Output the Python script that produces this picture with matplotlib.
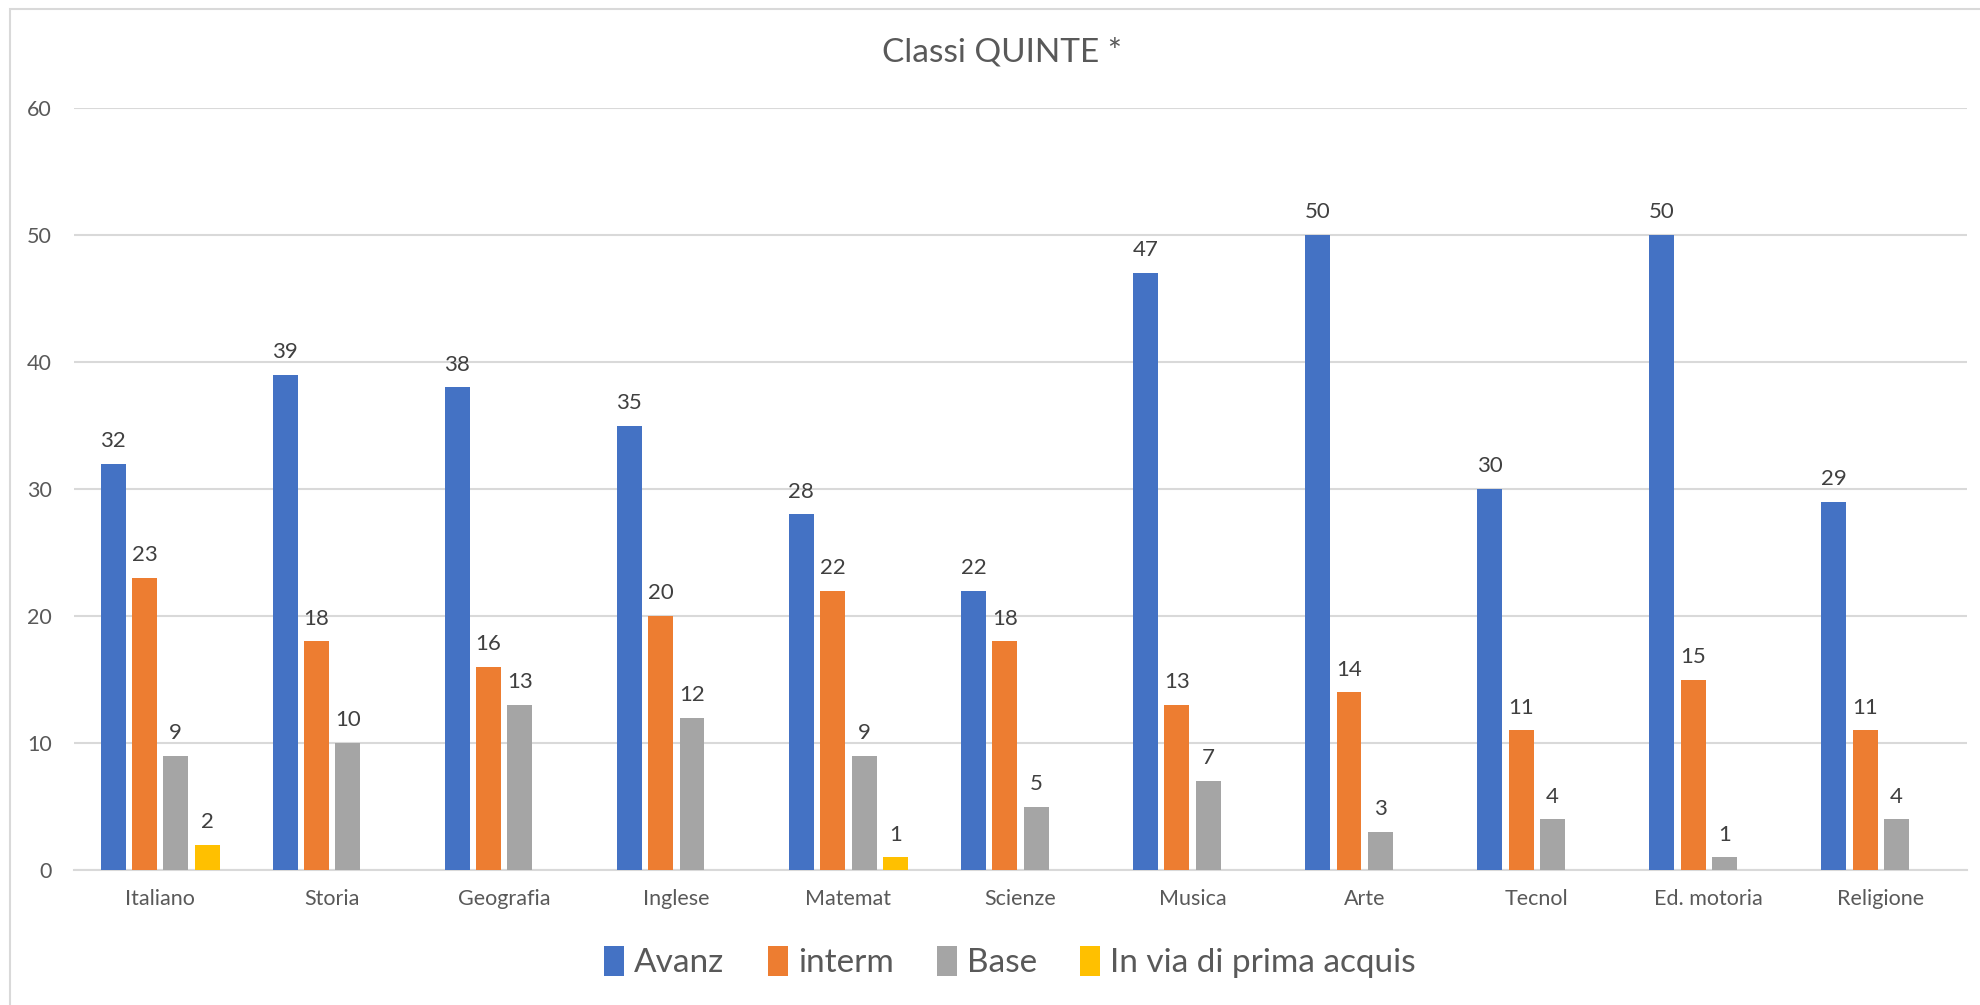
import numpy as np
import matplotlib
matplotlib.use("Agg")
import matplotlib.pyplot as plt
from matplotlib.patches import Rectangle

plt.rcParams['font.family'] = ['Lato', 'DejaVu Sans']

# data
materie = ["Italiano", "Storia", "Geografia", "Inglese", "Matemat", "Scienze",
           "Musica", "Arte", "Tecnol", "Ed. motoria", "Religione"]
avanz = [32, 39, 38, 35, 28, 22, 47, 50, 30, 50, 29]
interm = [23, 18, 16, 20, 22, 18, 13, 14, 11, 15, 11]
base = [9, 10, 13, 12, 9, 5, 7, 3, 4, 1, 4]
prima_acq = [2, 0, 0, 0, 1, 0, 0, 0, 0, 0, 0]

series = [("Avanz", avanz, "#4472C4"),
          ("interm", interm, "#ED7D31"),
          ("Base", base, "#A5A5A5"),
          ("In via di prima acquis", prima_acq, "#FFC000")]

W, H = 1981, 1005
fig = plt.figure(figsize=(W/100, H/100), dpi=100)
# chart area border (only left/top visible in the crop)
fig.patches.append(Rectangle((10/W, -0.1), 1.2, 1 - 9/H + 0.1, transform=fig.transFigure,
                             fill=False, edgecolor="#d9d9d9", linewidth=1.5))

ax = fig.add_axes([74/W, 1 - 870/H, (1967 - 74)/W, (870 - 108)/H])

x = np.arange(len(materie))
step = 0.182
bw = 0.145
for i, (name, vals, col) in enumerate(series):
    pos = x + (i - 1.5) * step
    ax.bar(pos, vals, width=bw, color=col, label=name, zorder=3)
    for p, v in zip(pos, vals):
        if v == 0:
            continue
        ax.annotate(str(v), (p, v), xytext=(0, 12), textcoords="offset points",
                    ha="center", va="baseline", fontsize=16, color="#404040")

ax.set_xlim(-0.5, len(materie) - 0.5)
ax.set_ylim(0, 60)
ax.set_yticks(range(0, 61, 10))
ax.yaxis.grid(True, color="#d9d9d9", linewidth=1.5, zorder=0)
ax.set_xticks(x)
ax.set_xticklabels(materie)
ax.tick_params(axis="both", length=0, labelsize=15.5, labelcolor="#595959")
ax.tick_params(axis="y", pad=16)
ax.tick_params(axis="x", pad=14)
for s in ["left", "right", "top"]:
    ax.spines[s].set_visible(False)
ax.spines["bottom"].set_color("#d9d9d9")
ax.spines["bottom"].set_linewidth(1.5)

fig.text(0.506, 1 - 52/H, "Classi QUINTE *", ha="center", va="center",
         fontsize=24, color="#595959")

leg = fig.legend(loc="center", bbox_to_anchor=(1010/W, 1 - 962/H), ncol=4,
                 frameon=False, fontsize=24, handlelength=0.6, handleheight=1.0,
                 handletextpad=0.3, columnspacing=1.3)
for t in leg.get_texts():
    t.set_color("#595959")

fig.savefig("out.png", dpi=100)
